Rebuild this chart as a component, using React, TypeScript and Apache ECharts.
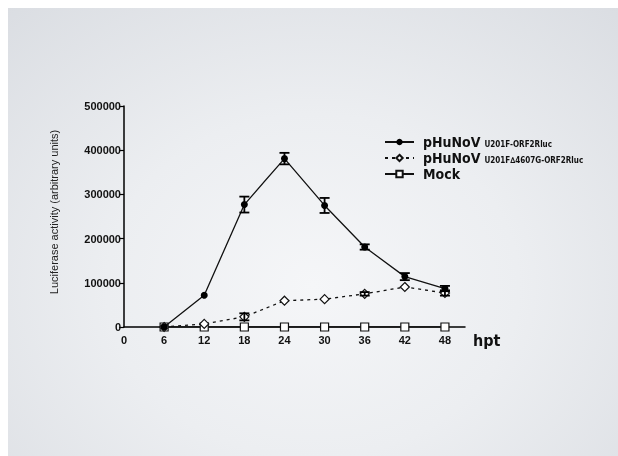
import React, { useEffect, useRef } from "react";
import * as echarts from "echarts";

const hours = [6, 12, 18, 24, 30, 36, 42, 48];
const wtValues = [0, 72000, 277000, 381000, 275000, 181000, 114000, 87000];
const wtErrors = [0, 0, 18000, 13000, 17000, 6000, 8000, 6000];
const mutValues = [0, 7000, 23000, 59500, 63000, 75000, 90500, 77000];
const mutErrors = [0, 0, 8000, 0, 0, 4000, 0, 6000];
const mockValues = [0, 0, 0, 0, 0, 0, 0, 0];
const xTicks = [0, 6, 12, 18, 24, 30, 36, 42, 48];
const yTicks = [0, 100000, 200000, 300000, 400000, 500000];

const FONT = "'Liberation Sans', Arial, Helvetica, sans-serif";
const NARROW = "'Liberation Sans Narrow', 'Arial Narrow', 'DejaVu Sans Condensed', 'Liberation Sans', sans-serif";

function errorBarSeries(values: number[], errors: number[], z: number) {
  const data = hours
    .map((h, i) => [h, values[i] - errors[i], values[i] + errors[i], errors[i]])
    .filter((d) => d[3] > 0);
  return {
    type: "custom",
    z,
    silent: true,
    data,
    encode: { x: 0, y: [1, 2] },
    renderItem: (params: any, api: any) => {
      const x = api.value(0);
      const lo = api.coord([x, api.value(1)]);
      const hi = api.coord([x, api.value(2)]);
      const hw = 5;
      const style = { stroke: "#000", lineWidth: 1.8 };
      return {
        type: "group",
        children: [
          { type: "line", shape: { x1: lo[0], y1: lo[1], x2: hi[0], y2: hi[1] }, style },
          { type: "line", shape: { x1: lo[0] - hw, y1: lo[1], x2: lo[0] + hw, y2: lo[1] }, style },
          { type: "line", shape: { x1: hi[0] - hw, y1: hi[1], x2: hi[0] + hw, y2: hi[1] }, style },
        ],
      };
    },
  };
}

export default function App() {
  const ref = useRef<HTMLDivElement>(null);
  useEffect(() => {
    if (!ref.current) return;
    const chart = echarts.init(ref.current, undefined, { renderer: "svg" });
    const legendNames = ["wt", "mut", "mock"];
    chart.setOption({
      animation: false,
      backgroundColor: "transparent",
      grid: { left: 116, right: 153, top: 98, bottom: 129, containLabel: false },
      legend: {
        orient: "vertical",
        left: 371,
        top: 122,
        itemWidth: 29,
        itemHeight: 8,
        itemGap: 2,
        data: legendNames,
        selectedMode: false,
        formatter: (name: string) => {
          if (name === "wt") return "{a|pHuNoV}{b|U201F-ORF2Rluc}";
          if (name === "mut") return "{a|pHuNoV}{b|U201F\u22064607G-ORF2Rluc}";
          return "{a|Mock}";
        },
        textStyle: {
          fontFamily: NARROW,
          color: "#111",
          rich: {
            a: { fontSize: 14, fontWeight: "bold", fontFamily: NARROW, color: "#111", lineHeight: 16, padding: [0, 0, 0, 4] },
            b: { fontSize: 8, fontWeight: "bold", fontFamily: NARROW, color: "#111", padding: [4, 0, 0, 4], lineHeight: 16 },
          },
        },
      },
      xAxis: {
        type: "value",
        min: 0,
        max: 51,
        interval: 6,
        axisLine: { show: true, onZero: false, lineStyle: { color: "#000", width: 1.5 } },
        axisTick: { show: false },
        splitLine: { show: false },
        axisLabel: {
          margin: 7,
          fontFamily: FONT,
          fontSize: 11,
          fontWeight: "bold",
          color: "#111",
          showMaxLabel: false,
          formatter: (v: number) => (xTicks.includes(v) ? String(v) : ""),
        },
      },
      yAxis: {
        type: "value",
        min: 0,
        max: 500000,
        interval: 100000,
        axisLine: { show: true, lineStyle: { color: "#000", width: 1.5 } },
        axisTick: { show: true, length: 5, lineStyle: { color: "#000", width: 1.2 } },
        splitLine: { show: false },
        axisLabel: {
          margin: 3,
          fontFamily: FONT,
          fontSize: 11,
          fontWeight: "bold",
          color: "#111",
          formatter: (v: number) => (yTicks.includes(v) ? String(v) : ""),
        },
      },
      graphic: [
        {
          type: "text",
          left: 465,
          top: 324,
          style: { text: "hpt", fontFamily: NARROW, fontSize: 16, fontWeight: "bold", fill: "#111" },
        },
        {
          type: "text",
          x: 46,
          y: 204,
          rotation: Math.PI / 2,
          style: {
            text: "Luciferase activity (arbitrary units)",
            fontFamily: FONT,
            fontSize: 11,
            fill: "#222",
            textAlign: "center",
            textVerticalAlign: "middle",
          },
        },
      ],
      series: [
        {
          name: "mock",
          type: "line",
          z: 2,
          data: hours.map((h, i) => [h, mockValues[i]]),
          symbol: "rect",
          symbolSize: 8,
          itemStyle: { color: "#fff", borderColor: "#111", borderWidth: 1.2 },
          lineStyle: { color: "#111", width: 1.3 },
        },
        {
          name: "mut",
          type: "line",
          z: 3,
          data: hours.map((h, i) => [h, mutValues[i]]),
          symbol: "diamond",
          symbolSize: 9,
          itemStyle: { color: "#fff", borderColor: "#111", borderWidth: 1.2 },
          lineStyle: { color: "#111", width: 1.3, type: [3, 4] },
        },
        {
          name: "wt",
          type: "line",
          z: 4,
          data: hours.map((h, i) => [h, wtValues[i]]),
          symbol: "circle",
          symbolSize: 7,
          itemStyle: { color: "#000", borderColor: "#000", borderWidth: 0 },
          lineStyle: { color: "#111", width: 1.3 },
        },
        errorBarSeries(wtValues, wtErrors, 5),
        errorBarSeries(mutValues, mutErrors, 5),
      ],
    });
    return () => chart.dispose();
  }, []);
  return (
    <div
      style={{
        position: "fixed",
        left: 8,
        top: 8,
        right: 0,
        bottom: 0,
        background:
          "radial-gradient(ellipse 75% 85% at 50% 62%, #f5f6f8 0%, #eceef1 45%, #dadde2 100%)",
      }}
    >
      <div ref={ref} style={{ width: 610, height: 448 }} />
    </div>
  );
}
